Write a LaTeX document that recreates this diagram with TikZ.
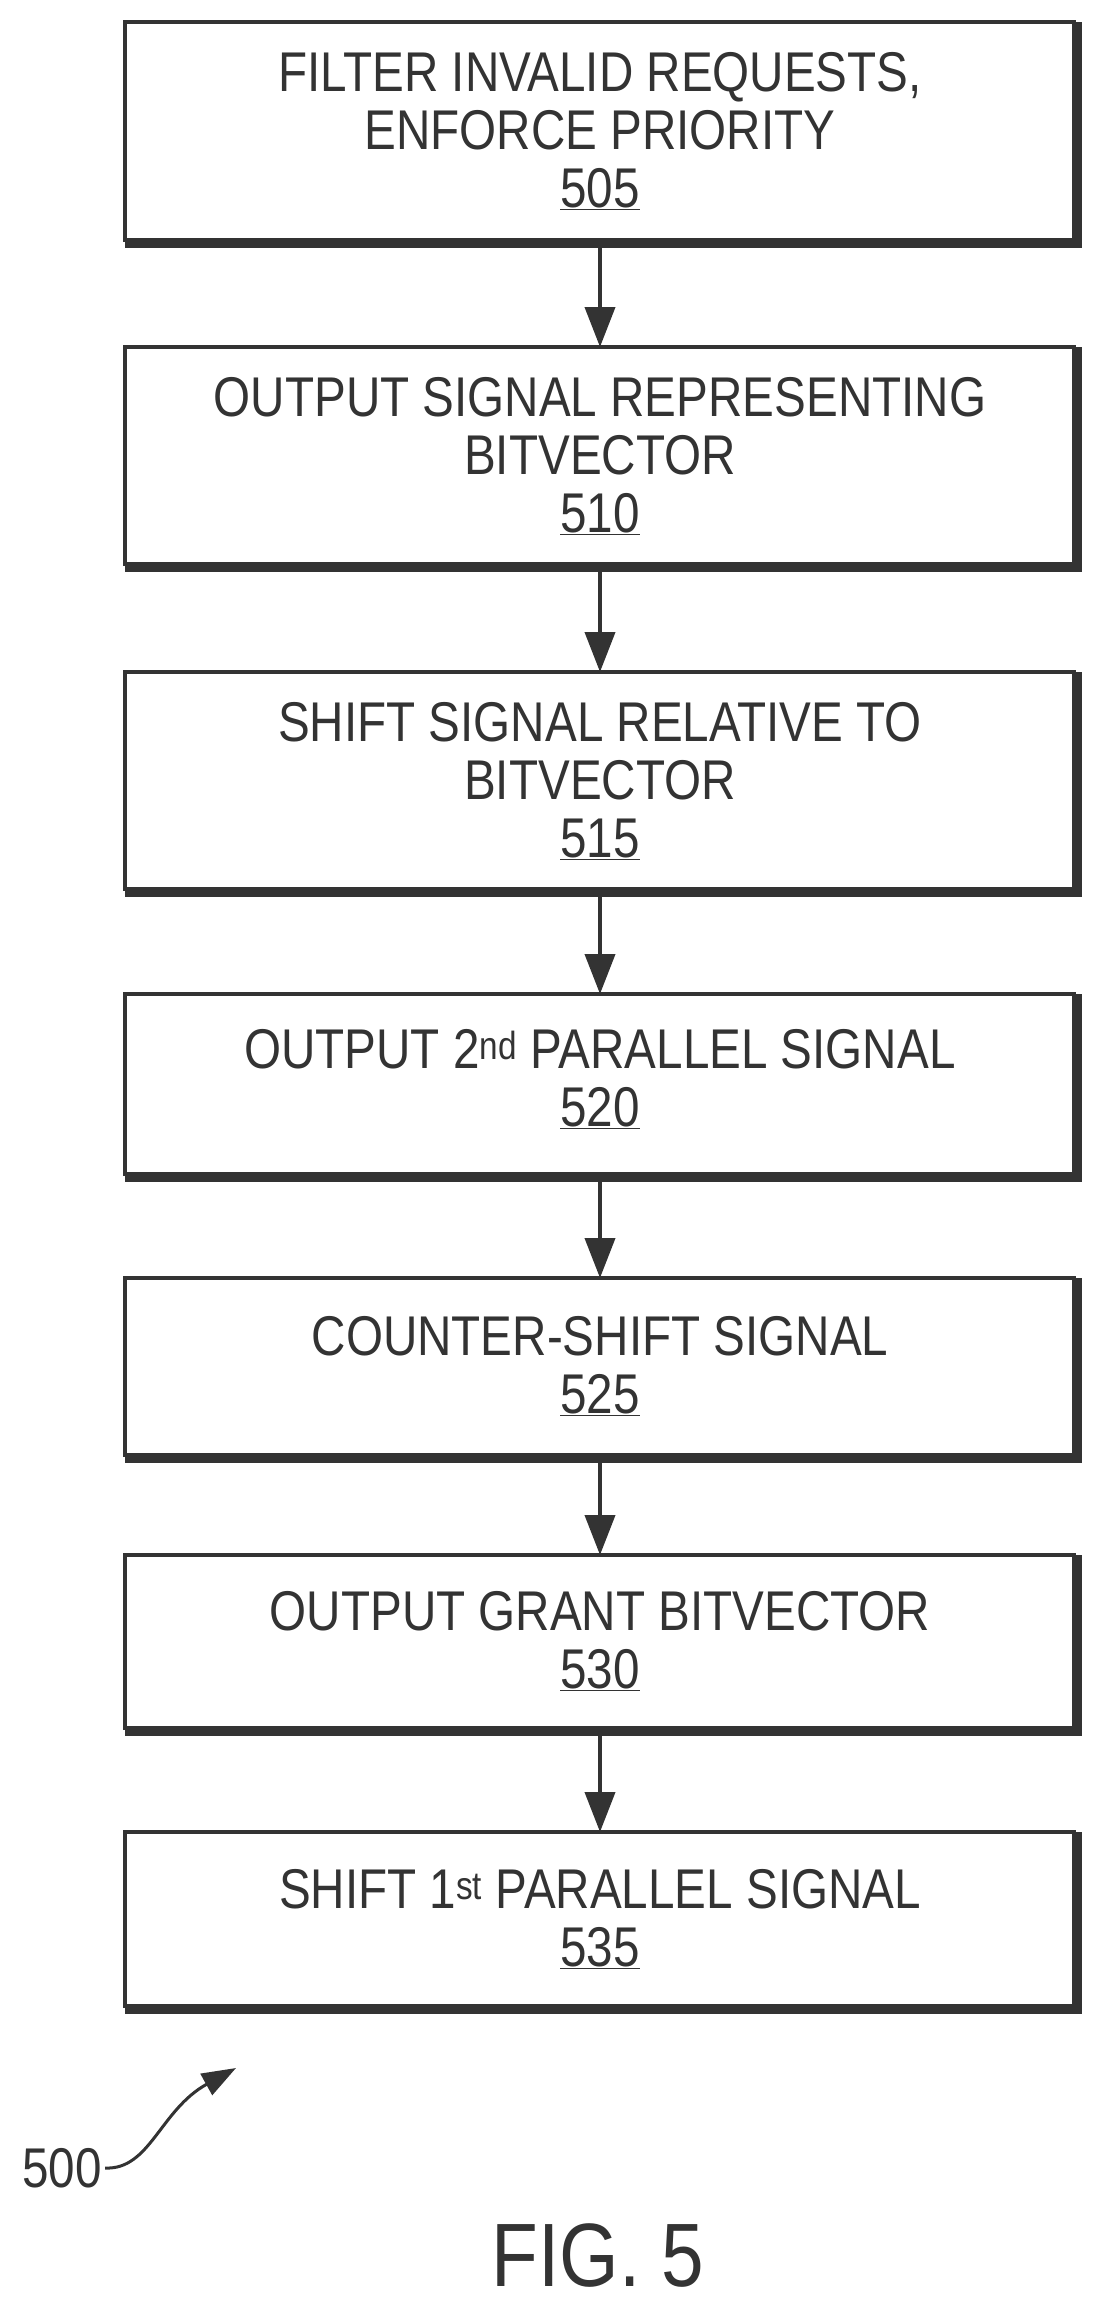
\documentclass[tikz,border=0pt]{standalone}
\usepackage{fontspec}
\setmainfont{Liberation Sans}[FakeStretch=0.85]
\usetikzlibrary{arrows.meta}
\definecolor{ink}{gray}{0.2}
\begin{document}
\begin{tikzpicture}[x=1pt,y=-1pt,
  box/.style={draw=ink,line width=4pt},
  txt/.style={text=ink,align=center,font=\fontsize{56}{58}\selectfont},
  arr/.style={draw=ink,line width=4pt,-{Triangle[length=40pt,width=30pt]}}]
\useasboundingbox (0,0) rectangle (1093,2308);
\foreach \n/\t/\b in {1/22/240,2/347/564,3/672/889,4/994/1174,5/1278/1455,6/1555/1728,7/1832/2006}{
  \draw[box] (125,\t) rectangle (1074,\b);
  \draw[ink,line width=10pt] (125,\b+3) -- (1077,\b+3) -- (1077,\t);
  \coordinate (t\n) at (600,\t);
  \coordinate (b\n) at (600,\b+8);
}
\node[txt] (n1) at (600,131) {FILTER INVALID REQUESTS,\\ENFORCE PRIORITY\\\underline{505}};
\node[txt] (n2) at (600,456) {OUTPUT SIGNAL REPRESENTING\\BITVECTOR\\\underline{510}};
\node[txt] (n3) at (600,781) {SHIFT SIGNAL RELATIVE TO\\BITVECTOR\\\underline{515}};
\node[txt] (n4) at (600,1079) {OUTPUT 2\textsuperscript{nd} PARALLEL SIGNAL\\\underline{520}};
\node[txt] (n5) at (600,1366) {COUNTER-SHIFT SIGNAL\\\underline{525}};
\node[txt] (n6) at (600,1641) {OUTPUT GRANT BITVECTOR\\\underline{530}};
\node[txt] (n7) at (600,1919) {SHIFT 1\textsuperscript{st} PARALLEL SIGNAL\\\underline{535}};
\foreach \a/\b in {1/2,2/3,3/4,4/5,5/6,6/7}{\draw[arr] (b\a) -- (t\b);}
\node[txt,anchor=center] (lab) at (62,2168) {500};
\coordinate (ae) at (236,2068);
\draw[arr,line width=3pt,-{Triangle[length=34pt,width=24pt]}] (lab.east) .. controls (150,2170) and (160,2110) .. (ae);
\node[text=ink,font=\fontsize{90}{90}\selectfont] (fig) at (598,2255) {FIG. 5};
\end{tikzpicture}
\end{document}
